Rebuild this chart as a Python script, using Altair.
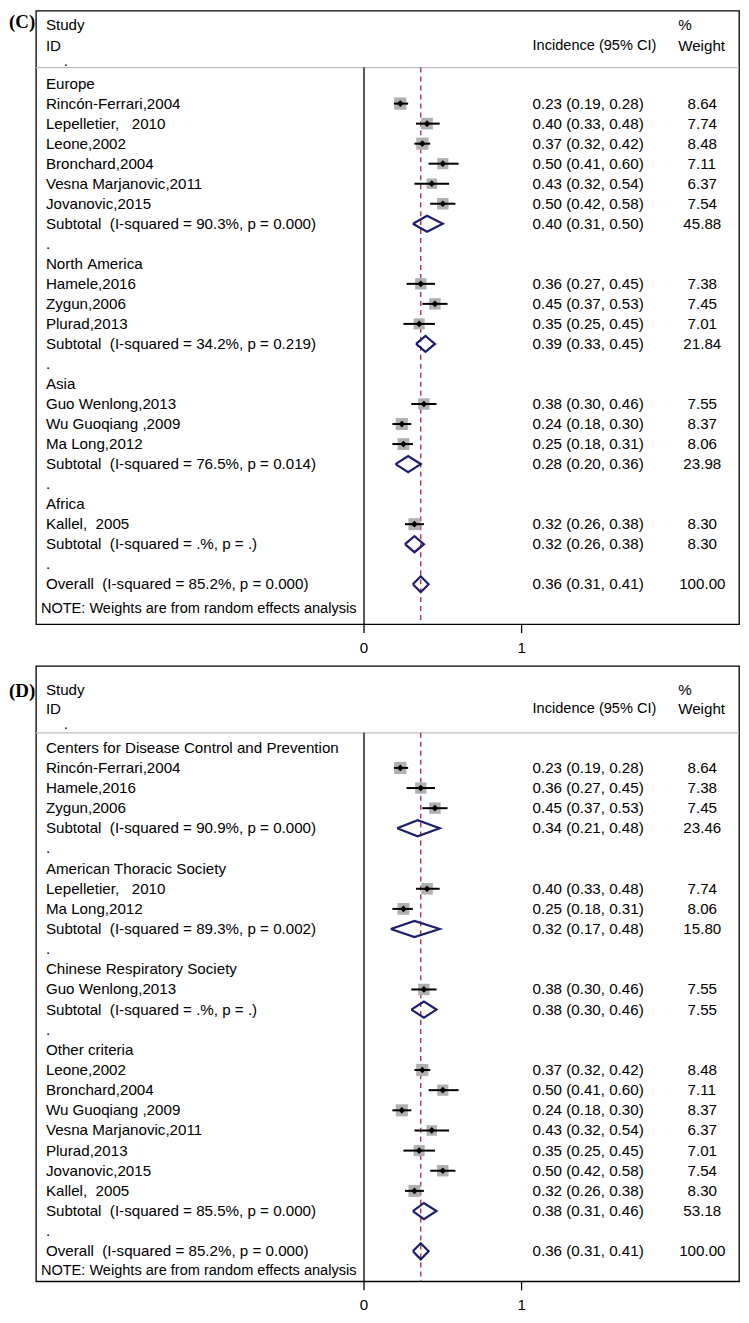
import altair as alt
import pandas as pd

# ---------------- Panel C: subgroup by region ----------------
labels_c = ["Europe", "Rincón-Ferrari,2004", "Lepelletier,   2010", "Leone,2002", "Bronchard,2004",
            "Vesna Marjanovic,2011", "Jovanovic,2015", "Subtotal  (I-squared = 90.3%, p = 0.000)", ".",
            "North America", "Hamele,2016", "Zygun,2006", "Plurad,2013",
            "Subtotal  (I-squared = 34.2%, p = 0.219)", ".",
            "Asia", "Guo Wenlong,2013", "Wu Guoqiang ,2009", "Ma Long,2012",
            "Subtotal  (I-squared = 76.5%, p = 0.014)", ".",
            "Africa", "Kallel,  2005", "Subtotal  (I-squared = .%, p = .)", ".",
            "Overall  (I-squared = 85.2%, p = 0.000)"]
kind_c = ["group", "study", "study", "study", "study", "study", "study", "subtotal", "blank",
          "group", "study", "study", "study", "subtotal", "blank",
          "group", "study", "study", "study", "subtotal", "blank",
          "group", "study", "subtotal", "blank", "overall"]
est_c = [None, 0.23, 0.40, 0.37, 0.50, 0.43, 0.50, 0.40, None,
         None, 0.36, 0.45, 0.35, 0.39, None,
         None, 0.38, 0.24, 0.25, 0.28, None,
         None, 0.32, 0.32, None, 0.36]
lo_c = [None, 0.19, 0.33, 0.32, 0.41, 0.32, 0.42, 0.31, None,
        None, 0.27, 0.37, 0.25, 0.33, None,
        None, 0.30, 0.18, 0.18, 0.20, None,
        None, 0.26, 0.26, None, 0.31]
hi_c = [None, 0.28, 0.48, 0.42, 0.60, 0.54, 0.58, 0.50, None,
        None, 0.45, 0.53, 0.45, 0.45, None,
        None, 0.46, 0.30, 0.31, 0.36, None,
        None, 0.38, 0.38, None, 0.41]
wt_c = [None, 8.64, 7.74, 8.48, 7.11, 6.37, 7.54, 45.88, None,
        None, 7.38, 7.45, 7.01, 21.84, None,
        None, 7.55, 8.37, 8.06, 23.98, None,
        None, 8.30, 8.30, None, 100.00]

# ---------------- Panel D: subgroup by diagnostic criteria ----------------
labels_d = ["Centers for Disease Control and Prevention", "Rincón-Ferrari,2004", "Hamele,2016", "Zygun,2006",
            "Subtotal  (I-squared = 90.9%, p = 0.000)", ".",
            "American Thoracic Society", "Lepelletier,   2010", "Ma Long,2012",
            "Subtotal  (I-squared = 89.3%, p = 0.002)", ".",
            "Chinese Respiratory Society", "Guo Wenlong,2013", "Subtotal  (I-squared = .%, p = .)", ".",
            "Other criteria", "Leone,2002", "Bronchard,2004", "Wu Guoqiang ,2009", "Vesna Marjanovic,2011",
            "Plurad,2013", "Jovanovic,2015", "Kallel,  2005",
            "Subtotal  (I-squared = 85.5%, p = 0.000)", ".",
            "Overall  (I-squared = 85.2%, p = 0.000)"]
kind_d = ["group", "study", "study", "study", "subtotal", "blank",
          "group", "study", "study", "subtotal", "blank",
          "group", "study", "subtotal", "blank",
          "group", "study", "study", "study", "study", "study", "study", "study", "subtotal", "blank",
          "overall"]
est_d = [None, 0.23, 0.36, 0.45, 0.34, None,
         None, 0.40, 0.25, 0.32, None,
         None, 0.38, 0.38, None,
         None, 0.37, 0.50, 0.24, 0.43, 0.35, 0.50, 0.32, 0.38, None,
         0.36]
lo_d = [None, 0.19, 0.27, 0.37, 0.21, None,
        None, 0.33, 0.18, 0.17, None,
        None, 0.30, 0.30, None,
        None, 0.32, 0.41, 0.18, 0.32, 0.25, 0.42, 0.26, 0.31, None,
        0.31]
hi_d = [None, 0.28, 0.45, 0.53, 0.48, None,
        None, 0.48, 0.31, 0.48, None,
        None, 0.46, 0.46, None,
        None, 0.42, 0.60, 0.30, 0.54, 0.45, 0.58, 0.38, 0.46, None,
        0.41]
wt_d = [None, 8.64, 7.38, 7.45, 23.46, None,
        None, 7.74, 8.06, 15.80, None,
        None, 7.55, 7.55, None,
        None, 8.48, 7.11, 8.37, 6.37, 7.01, 7.54, 8.30, 53.18, None,
        100.00]

x_ticks = [0, 1]
x_tick_labels = ["0", "1"]
note_text = "NOTE: Weights are from random effects analysis"

FONT = "Liberation Sans"
FS = 15.2
NAVY = "#1d1d6e"
RED = "#9e2a3c"
W = 705
X0_PX = 329.0
UNIT_PX = 158.0
XDOM = [-X0_PX / UNIT_PX, (W - X0_PX) / UNIT_PX]
NB = "\u00a0"
WT_X = 645
SPACE_PX = 4.2


def make_panel(tag, labels, kinds, est, lo, hi, wt, H, rtop, rbot, sep, hdr, note_row, tag_y):
    rows = []
    for i, (lab, k, e, l, h, w) in enumerate(zip(labels, kinds, est, lo, hi, wt)):
        rows.append({
            "row": i, "kind": k, "label": lab.replace(" ", NB),
            "est": e, "lo": l, "hi": h, "wt": w,
            "inc": f"{e:.2f} ({l:.2f}, {h:.2f})" if e is not None else "",
            "wtxt": f"{w:.2f}" if w is not None else "",
        })
    df = pd.DataFrame(rows)
    dia = []
    hh = 0.40
    for r in rows:
        if r["kind"] in ("subtotal", "overall"):
            pts = [(r["lo"], r["row"]), (r["est"], r["row"] - hh), (r["hi"], r["row"]),
                   (r["est"], r["row"] + hh), (r["lo"], r["row"])]
            for j, (px, py) in enumerate(pts):
                dia.append({"g": r["row"], "o": j, "dx": px, "dy": py})
    dfd = pd.DataFrame(dia)

    xs = alt.Scale(domain=XDOM, nice=False, zero=False)
    ys = alt.Scale(domain=[rtop, rbot], nice=False, zero=False, reverse=True)

    def txt(size=FS, **kw):
        return dict(font=FONT, fontSize=size, align="left", baseline="middle", color="black", **kw)

    def Y(f):
        return alt.Y(f, type="quantitative", scale=ys, axis=None)

    def X(f):
        return alt.X(f, type="quantitative", scale=xs, axis=None)

    studies = alt.Chart(df).transform_filter("datum.kind == 'study'")
    overall = alt.Chart(df).transform_filter("datum.kind == 'overall'")

    sep_df = pd.DataFrame({"r": [sep], "z": [0.0]})
    tick_df = pd.DataFrame({"x": x_ticks, "t": x_tick_labels})

    sep_line = alt.Chart(sep_df).mark_rule(color="#bdbdbd", strokeWidth=1.3).encode(
        x=alt.value(0), x2=alt.value(W), y=Y("r"))
    zero_line = alt.Chart(sep_df).mark_rule(color="black", strokeWidth=1.3).encode(
        x=X("z"), y=Y("r"), y2=alt.value(H))
    ticks = alt.Chart(tick_df).mark_rule(color="black", strokeWidth=1.3).encode(
        x=X("x"), y=alt.value(H), y2=alt.value(H + 9))
    tick_lab = alt.Chart(tick_df).mark_text(font=FONT, fontSize=FS, align="center",
                                            baseline="middle", color="black").encode(
        x=X("x"), y=alt.value(H + 24), text="t:N")
    dash_line = overall.transform_calculate(r=str(sep)).mark_rule(
        color=RED, strokeWidth=1.3, strokeDash=[5, 4]).encode(
        x=X("est"), y=Y("r"), y2=alt.value(H))

    boxes = studies.mark_square(color="#b0b0b0", opacity=1).encode(
        x=X("est"), y=Y("row"),
        size=alt.Size("wt:Q", scale=alt.Scale(domain=[0, 10], range=[0, 175]), legend=None))
    cis = studies.mark_rule(color="black", strokeWidth=2).encode(
        x=X("lo"), x2="hi:Q", y=Y("row"))
    pts = studies.mark_point(shape="diamond", filled=True, color="black", size=45, opacity=1).encode(
        x=X("est"), y=Y("row"))
    diamonds = alt.Chart(dfd).mark_line(color=NAVY, strokeWidth=2.2).encode(
        x=X("dx"), y=Y("dy"), detail="g:N", order="o:Q")

    lab_txt = alt.Chart(df).mark_text(**txt()).encode(
        x=alt.value(10), y=Y("row"), text="label:N")
    inc_txt = alt.Chart(df).mark_text(**txt()).encode(
        x=alt.value(498), y=Y("row"), text="inc:N")
    # weight column: Stata pads numbers to a fixed width with leading spaces
    wt_lt10 = alt.Chart(df).transform_filter("datum.wt != null && datum.wt < 10").mark_text(**txt()).encode(
        x=alt.value(WT_X + 2 * SPACE_PX), y=Y("row"), text="wtxt:N")
    wt_lt100 = alt.Chart(df).transform_filter("datum.wt >= 10 && datum.wt < 100").mark_text(**txt()).encode(
        x=alt.value(WT_X + SPACE_PX), y=Y("row"), text="wtxt:N")
    wt_100 = alt.Chart(df).transform_filter("datum.wt >= 100").mark_text(**txt()).encode(
        x=alt.value(WT_X), y=Y("row"), text="wtxt:N")

    hl = pd.DataFrame({"t": ["Study", "ID"], "r": [hdr[0], hdr[1]]})
    hr = pd.DataFrame({"t": ["%", "Weight"], "r": [hdr[0], hdr[1]]})
    hd = pd.DataFrame({"t": ["."], "r": [hdr[2]]})
    hi_df = pd.DataFrame({"t": ["Incidence (95% CI)"], "r": [hdr[1]]})
    nt = pd.DataFrame({"t": [note_text], "r": [note_row]})
    tg = pd.DataFrame({"t": [tag]})

    h_left = alt.Chart(hl).mark_text(**txt()).encode(x=alt.value(10), y=Y("r"), text="t:N")
    h_dot = alt.Chart(hd).mark_text(**txt()).encode(x=alt.value(28), y=Y("r"), text="t:N")
    h_inc = alt.Chart(hi_df).mark_text(**txt(size=14.6)).encode(x=alt.value(498), y=Y("r"), text="t:N")
    h_wt = alt.Chart(hr).mark_text(**txt()).encode(x=alt.value(644), y=Y("r"), text="t:N")
    note = alt.Chart(nt).mark_text(**txt(size=14.6)).encode(x=alt.value(5), y=Y("r"), text="t:N")
    tag_mark = alt.Chart(tg).mark_text(font="Liberation Serif", fontWeight="bold", fontSize=19,
                                       align="left", baseline="middle", color="black").encode(
        x=alt.value(-27), y=alt.value(tag_y), text="t:N")

    return alt.layer(sep_line, zero_line, ticks, tick_lab, dash_line, boxes, cis, pts, diamonds,
                     lab_txt, inc_txt, wt_lt10, wt_lt100, wt_100,
                     h_left, h_dot, h_inc, h_wt, note, tag_mark
                     ).properties(width=W, height=H)


panel_c = make_panel("(C)", labels_c, kind_c, est_c, lo_c, hi_c, wt_c,
                     H=615, rtop=-3.635, rbot=26.99, sep=-0.80,
                     hdr=(-2.94, -1.89, -1.15), note_row=26.25, tag_y=11)
panel_d = make_panel("(D)", labels_d, kind_d, est_d, lo_d, hi_d, wt_d,
                     H=617, rtop=-4.06, rbot=26.49, sep=-0.74,
                     hdr=(-2.87, -1.93, -1.19), note_row=26.0, tag_y=25)

chart = alt.vconcat(panel_c, panel_d, spacing=8).resolve_scale(
    x="independent", y="independent", size="independent"
).properties(padding=0).configure_view(stroke="black", strokeWidth=1.3)

chart.save("out.html", embed_options={"renderer": "svg", "actions": False})
